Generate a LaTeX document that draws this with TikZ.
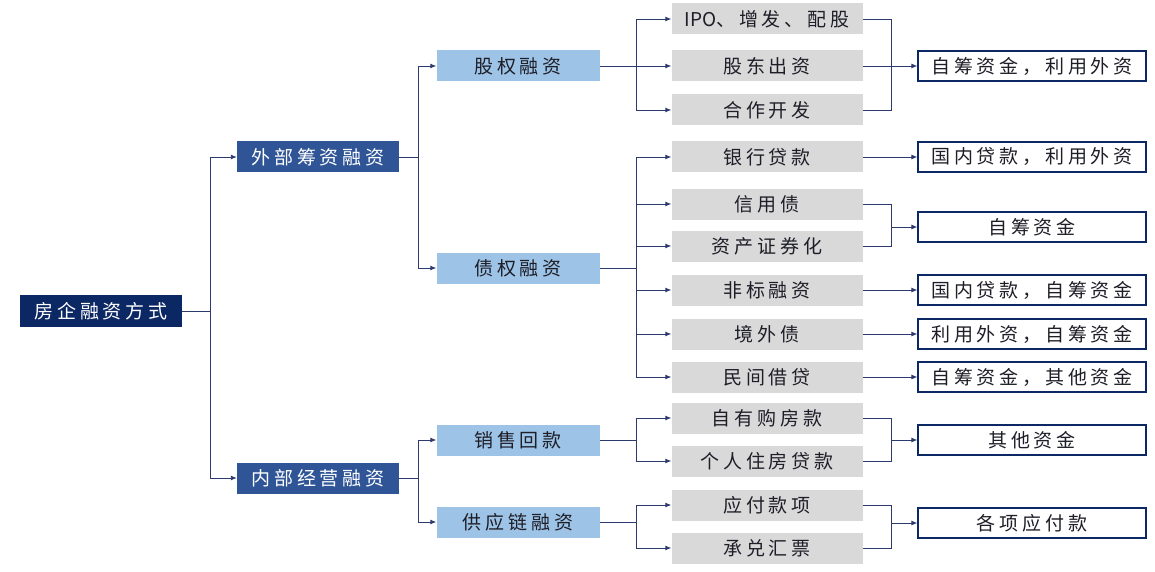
\documentclass[tikz,border=0pt]{standalone}
\usepackage{fontspec}
\setmainfont[LetterSpace=20]{Noto Sans CJK SC}
\newfontfamily\plainfont{Noto Sans CJK SC}
\usetikzlibrary{arrows.meta}
\definecolor{rootblue}{RGB}{12,40,100}
\definecolor{midblue}{RGB}{47,85,151}
\definecolor{lightblue}{RGB}{157,195,230}
\definecolor{boxgray}{RGB}{217,217,217}
\definecolor{linkblue}{RGB}{45,58,110}
\definecolor{inkdark}{RGB}{30,30,40}
\begin{document}
\begin{tikzpicture}[x=1pt,y=-1pt,
  font=\fontsize{19}{19}\selectfont,
  lvl0/.style={fill=rootblue,text=white,minimum width=162pt,minimum height=32pt,inner sep=0pt},
  lvl1/.style={fill=midblue,text=white,minimum width=162pt,minimum height=31pt,inner sep=0pt},
  lvl2/.style={fill=lightblue,text=inkdark,minimum width=163pt,minimum height=31pt,inner sep=0pt},
  lvl3/.style={fill=boxgray,text=inkdark,minimum width=191pt,minimum height=31pt,inner sep=0pt},
  lvl4/.style={draw=rootblue,line width=1.2pt,fill=white,text=inkdark,minimum width=228pt,minimum height=30pt,inner sep=0pt},
  link/.style={draw=linkblue,line width=0.9pt},
  arr/.style={link,-{Latex[length=6pt,width=5pt]}}]
  \useasboundingbox (0,0) rectangle (1155,572);
  %%% define points
  \path (210,311) coordinate (j0);
  \path (418,157) coordinate (j1);
  \path (418,478) coordinate (j2);
  \path (636,66) coordinate (j3);
  \path (636,268) coordinate (j4);
  \path (636,440) coordinate (j5);
  \path (636,522) coordinate (j6);
  %%%
  \path (891,66) coordinate (m1);
  \path (891,227) coordinate (m3);
  \path (891,440) coordinate (m7);
  \path (891,523) coordinate (m8);
  %%% boxes
  \node[lvl0] (fq) at (101,311) {房企融资方式};
  %%%
  \node[lvl1] (wb) at (318,157) {外部筹资融资};
  \node[lvl1] (nb) at (318,478) {内部经营融资};
  %%%
  \node[lvl2] (gq) at (518,66) {股权融资};
  \node[lvl2] (zq) at (518,268) {债权融资};
  \node[lvl2] (xs) at (518,440) {销售回款};
  \node[lvl2] (gy) at (518,522) {供应链融资};
  %%%
  \node[lvl3] (ipo) at (767,19) {{\plainfont IPO}、增发、配股};
  \node[lvl3] (gd) at (767,66) {股东出资};
  \node[lvl3] (hz) at (767,110) {合作开发};
  \node[lvl3] (yh) at (767,157) {银行贷款};
  \node[lvl3] (xy) at (767,204) {信用债};
  \node[lvl3] (zc) at (767,246) {资产证券化};
  \node[lvl3] (fb) at (767,290) {非标融资};
  \node[lvl3] (jw) at (767,334) {境外债};
  \node[lvl3] (mj) at (767,377) {民间借贷};
  \node[lvl3] (zy) at (767,418) {自有购房款};
  \node[lvl3] (gr) at (767,461) {个人住房贷款};
  \node[lvl3] (yf) at (767,505) {应付款项};
  \node[lvl3] (cd) at (767,548) {承兑汇票};
  %%%
  \node[lvl4] (s1) at (1032,66) {自筹资金，利用外资};
  \node[lvl4] (s2) at (1032,157) {国内贷款，利用外资};
  \node[lvl4] (s3) at (1032,227) {自筹资金};
  \node[lvl4] (s4) at (1032,290) {国内贷款，自筹资金};
  \node[lvl4] (s5) at (1032,334) {利用外资，自筹资金};
  \node[lvl4] (s6) at (1032,377) {自筹资金，其他资金};
  \node[lvl4] (s7) at (1032,440) {其他资金};
  \node[lvl4] (s8) at (1032,523) {各项应付款};
  %%% Edges:
  \draw[link] (fq) -- (j0);
  \draw[arr] (j0) |- (wb);
  \draw[arr] (j0) |- (nb);
  %%%
  \draw[link] (wb) -- (j1);
  \draw[arr] (j1) |- (gq);
  \draw[arr] (j1) |- (zq);
  \draw[link] (nb) -- (j2);
  \draw[arr] (j2) |- (xs);
  \draw[arr] (j2) |- (gy);
  %%%
  \draw[link] (gq) -- (j3);
  \foreach \t in {ipo,gd,hz} \draw[arr] (j3) |- (\t);
  \draw[link] (zq) -- (j4);
  \foreach \t in {yh,xy,zc,fb,jw,mj} \draw[arr] (j4) |- (\t);
  \draw[link] (xs) -- (j5);
  \foreach \t in {zy,gr} \draw[arr] (j5) |- (\t);
  \draw[link] (gy) -- (j6);
  \foreach \t in {yf,cd} \draw[arr] (j6) |- (\t);
  %%%
  \draw[link] (ipo) -| (m1) |- (hz);
  \draw[arr] (gd) -- (s1);
  \draw[arr] (yh) -- (s2);
  \draw[link] (xy) -| (m3) |- (zc);
  \draw[arr] (m3) -- (s3);
  \draw[arr] (fb) -- (s4);
  \draw[arr] (jw) -- (s5);
  \draw[arr] (mj) -- (s6);
  \draw[link] (zy) -| (m7) |- (gr);
  \draw[arr] (m7) -- (s7);
  \draw[link] (yf) -| (m8) |- (cd);
  \draw[arr] (m8) -- (s8);
\end{tikzpicture}
\end{document}
